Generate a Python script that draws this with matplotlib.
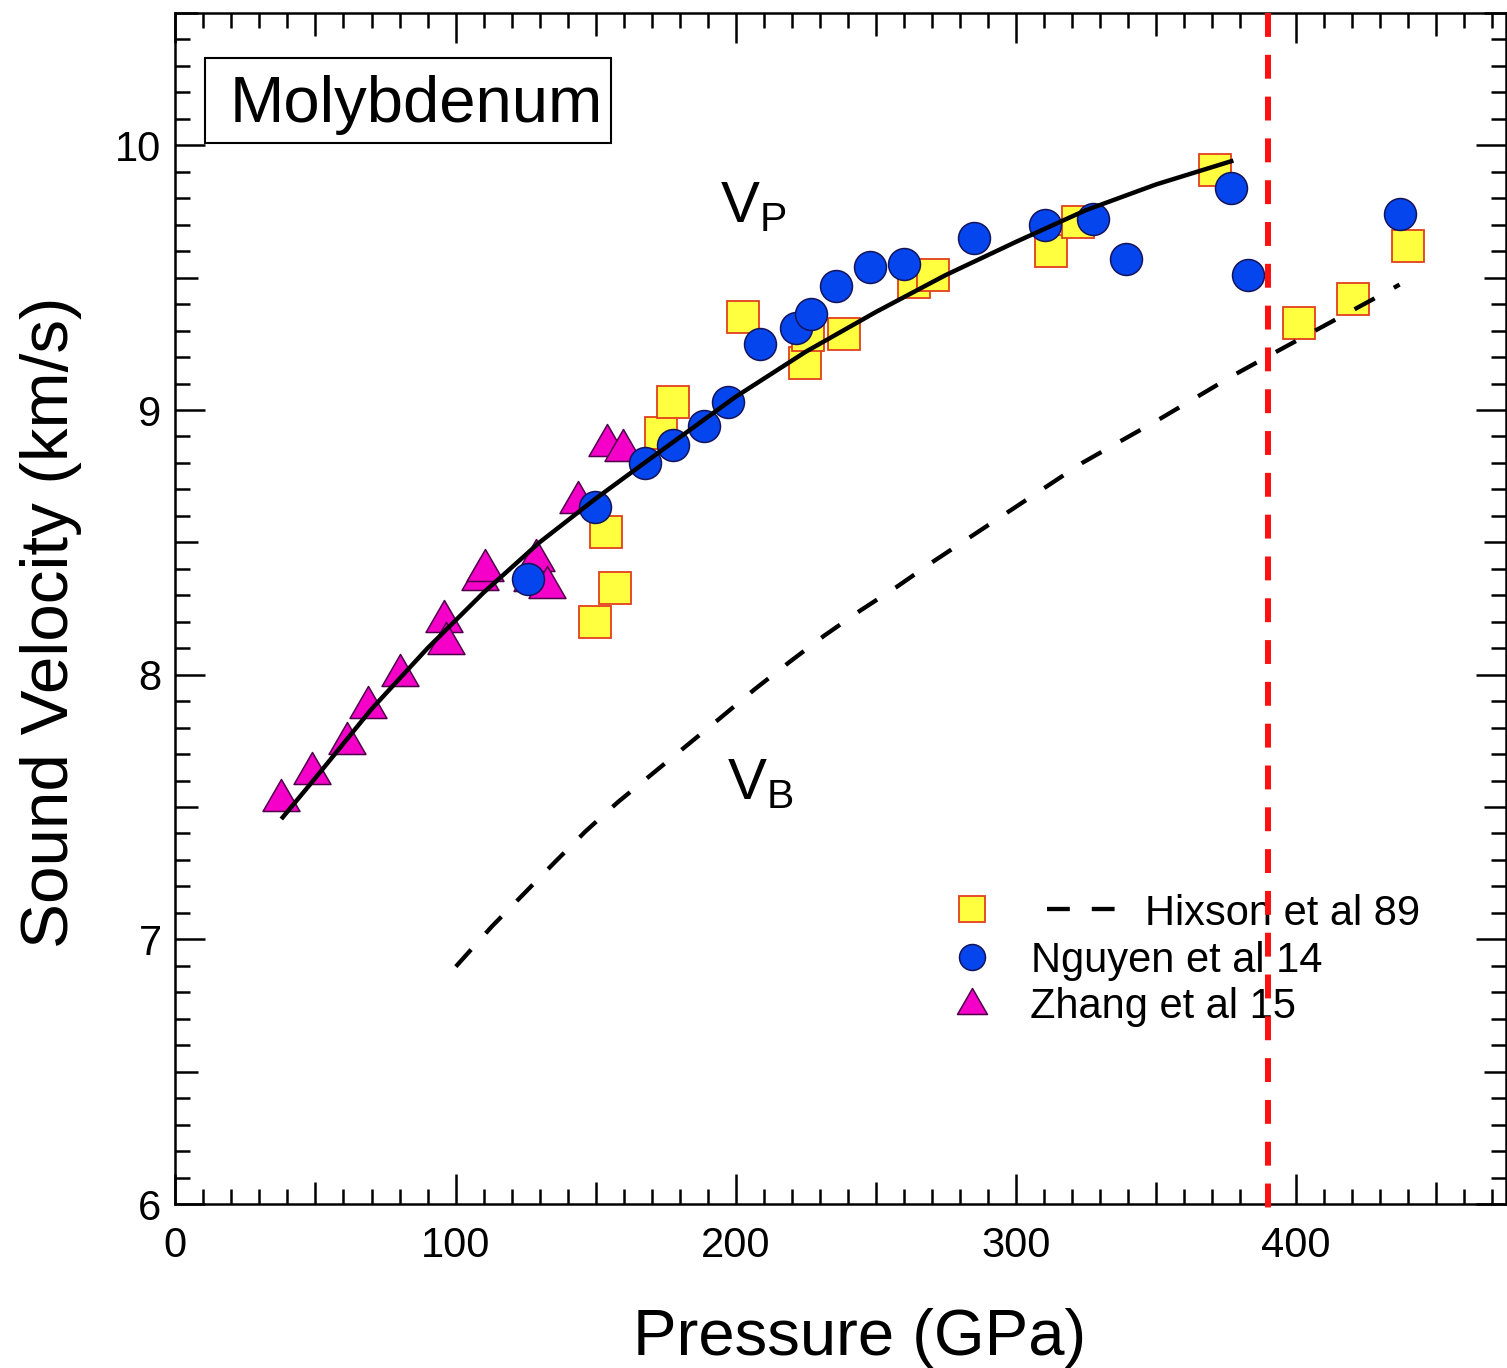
import numpy as np
import matplotlib
matplotlib.use("Agg")
import matplotlib.pyplot as plt
from matplotlib.path import Path
from matplotlib.patches import Rectangle
from matplotlib.ticker import FixedLocator, FuncFormatter

plt.rcParams["font.family"] = ["Liberation Sans", "DejaVu Sans"]
plt.rcParams["mathtext.fontset"] = "custom"
plt.rcParams["mathtext.rm"] = "Liberation Sans"
plt.rcParams["mathtext.it"] = "Liberation Sans:italic"

# ---- data -----------------------------------------------------------------
# Hixson et al 89 (squares)
hixson_p = [149.7, 153.8, 156.8, 173.5, 177.8, 202.7, 224.6, 225.7, 238.6,
            263.5, 270.6, 312.4, 322.3, 371.2, 401.2, 420.2, 440.0]
hixson_v = [8.199, 8.538, 8.327, 8.912, 9.029, 9.350, 9.179, 9.282, 9.289,
            9.484, 9.509, 9.600, 9.710, 9.908, 9.330, 9.421, 9.621]

# Nguyen et al 14 (circles)
nguyen_p = [125.8, 149.7, 167.8, 177.5, 188.7, 197.3, 208.7, 221.5, 226.8,
            235.7, 248.1, 260.2, 285.0, 310.4, 327.6, 339.4, 376.7, 382.8, 437.1]
nguyen_v = [8.360, 8.635, 8.800, 8.868, 8.940, 9.029, 9.249, 9.308, 9.361,
            9.470, 9.540, 9.550, 9.651, 9.700, 9.720, 9.572, 9.838, 9.511, 9.740]

# Zhang et al 15 (triangles)
zhang_p = [37.8, 48.7, 61.2, 68.8, 80.3, 96.0, 96.5, 108.7, 110.5,
           127.4, 128.6, 132.6, 143.7, 154.1, 159.7]
zhang_v = [7.545, 7.646, 7.759, 7.898, 8.019, 8.223, 8.138, 8.379, 8.413,
           8.376, 8.454, 8.349, 8.671, 8.887, 8.866]

# longitudinal sound velocity curve (V_P)
vp_p = [38.3, 50.0, 70.0, 90.0, 110.0, 130.0, 150.0, 170.0, 200.0, 225.0,
        250.0, 275.0, 300.0, 325.0, 350.0, 376.9]
vp_v = [7.461, 7.610, 7.870, 8.100, 8.310, 8.500, 8.665, 8.820, 9.050, 9.220,
        9.370, 9.510, 9.635, 9.755, 9.852, 9.940]

# bulk sound velocity curve (V_B)
vb_p = [100.1, 112.9, 135.1, 146.4, 157.9, 170.2, 182.5, 194.7, 206.8, 219.1,
        231.7, 244.6, 257.8, 270.6, 323.7, 337.0, 350.9, 364.6, 378.0, 392.1,
        433.5, 437.0]
vb_v = [6.897, 7.048, 7.288, 7.408, 7.518, 7.625, 7.732, 7.838, 7.945, 8.047,
        8.148, 8.243, 8.334, 8.428, 8.800, 8.880, 8.963, 9.049, 9.133, 9.215,
        9.453, 9.474]

# melting onset on the Hugoniot
melt_p = 390.0

legend_labels = ["Hixson et al 89", "Nguyen et al 14", "Zhang et al 15"]
material = "Molybdenum"

# ---- styles -----------------------------------------------------------------
sq_face, sq_edge = "#FFFF40", "#E0401C"
ci_face, ci_edge = "#0545EE", "#14145A"
tr_face, tr_edge = "#F500C8", "#50004A"
dash_vb = (0, (5.3, 5.1))

tri = Path([(-1, -0.866), (1, -0.866), (0, 0.866), (-1, -0.866)],
           [Path.MOVETO, Path.LINETO, Path.LINETO, Path.CLOSEPOLY])

fig = plt.figure(figsize=(15.07, 13.68), dpi=100)
ax = fig.add_axes([0.1164, 0.11988, 0.88295, 0.87061])

ax.plot(hixson_p, hixson_v, ls="none", marker="s", ms=22.8,
        mfc=sq_face, mec=sq_edge, mew=1.3, zorder=3)
ax.plot(zhang_p, zhang_v, ls="none", marker=tri, ms=26.6,
        mfc=tr_face, mec=tr_edge, mew=1.1, zorder=4)
ax.plot(nguyen_p, nguyen_v, ls="none", marker="o", ms=23.0,
        mfc=ci_face, mec=ci_edge, mew=1.1, zorder=5)

ax.plot(vp_p, vp_v, color="black", lw=3.2, zorder=6)
ax.plot(vb_p, vb_v, color="black", lw=3.1, ls=dash_vb, zorder=6)

ax.plot([melt_p, melt_p], [10.5, 5.966], color="#FF1010", lw=4.3,
        ls=(0, (4, 3)), clip_on=False, zorder=10)

ax.text(194.3, 9.710, r"$\mathrm{V_P}$", fontsize=42, ha="left", va="baseline")
ax.text(196.8, 7.529, r"$\mathrm{V_B}$", fontsize=42, ha="left", va="baseline")

# ---- legend ---------------------------------------------------------------
tr = ax.transAxes
rows_marker_y = [0.2477, 0.2074, 0.1704]
rows_text_y = [0.2343, 0.1948, 0.1562]
ax.plot([0.5986], [rows_marker_y[0]], transform=tr, marker="s", ms=18.7,
        mfc=sq_face, mec=sq_edge, mew=1.3, clip_on=False, zorder=7)
ax.plot([0.655, 0.7084], [rows_marker_y[0]] * 2, transform=tr, color="black",
        lw=3.1, ls=dash_vb, zorder=7)
ax.plot([0.5986], [rows_marker_y[1]], transform=tr, marker="o", ms=18.7,
        mfc=ci_face, mec=ci_edge, mew=1.1, clip_on=False, zorder=7)
ax.plot([0.5986], [rows_marker_y[2]], transform=tr, marker=tri, ms=21.6,
        mfc=tr_face, mec=tr_edge, mew=1.1, clip_on=False, zorder=7)
text_x = [0.7287, 0.6431, 0.6423]
for lab, x, y in zip(legend_labels, text_x, rows_text_y):
    ax.text(x, y, lab, transform=tr, fontsize=30, ha="left", va="baseline",
            zorder=7)

# ---- title box ------------------------------------------------------------
ax.add_patch(Rectangle((0.02225, 0.8909), 0.30515, 0.0713, transform=tr,
                       facecolor="white", edgecolor="black", lw=1.5, zorder=8))
ax.text(0.0410, 0.9085, material, transform=tr, fontsize=47, ha="left",
        va="baseline", zorder=9)

# ---- axes -----------------------------------------------------------------
ax.set_xlim(0, 475)
ax.set_ylim(6, 10.5)

ax.xaxis.set_major_locator(FixedLocator(np.arange(0, 476, 50)))
ax.xaxis.set_minor_locator(FixedLocator(np.arange(0, 476, 10)))
ax.yaxis.set_major_locator(FixedLocator(np.arange(6, 10.51, 0.5)))
ax.yaxis.set_minor_locator(FixedLocator(np.arange(6, 10.51, 0.1)))
ax.xaxis.set_major_formatter(FuncFormatter(
    lambda v, pos: f"{v:.0f}" if abs(v % 100) < 1e-6 else ""))
ax.yaxis.set_major_formatter(FuncFormatter(
    lambda v, pos: f"{v:.0f}" if abs(v - round(v)) < 1e-6 else ""))

ax.tick_params(which="both", direction="in", top=True, right=True,
               width=1.8, colors="black", labelsize=30)
ax.tick_params(which="major", length=16.2)
ax.tick_params(which="minor", length=10.8)
ax.tick_params(axis="x", which="major", pad=16)
ax.tick_params(axis="y", which="major", pad=10)

# the labelled (hundreds / integer) ticks are drawn longer
for axis, step in ((ax.xaxis, 100.0), (ax.yaxis, 1.0)):
    locs = axis.get_majorticklocs()
    for loc, tick in zip(locs, axis.get_major_ticks(len(locs))):
        if abs(loc / step - round(loc / step)) < 1e-6:
            tick.tick1line.set_markersize(21.6)
            tick.tick2line.set_markersize(21.6)

for s in ax.spines.values():
    s.set_linewidth(1.8)

ax.set_xlabel("Pressure (GPa)", fontsize=47)
ax.xaxis.label.set_va("baseline")
ax.xaxis.set_label_coords(0.5145, -0.1268)
ax.set_ylabel("Sound Velocity (km/s)", fontsize=48.5)
ax.yaxis.label.set_va("baseline")
ax.yaxis.set_label_coords(-0.0807, 0.4887)

fig.savefig("out.png", dpi=100, facecolor="white")
